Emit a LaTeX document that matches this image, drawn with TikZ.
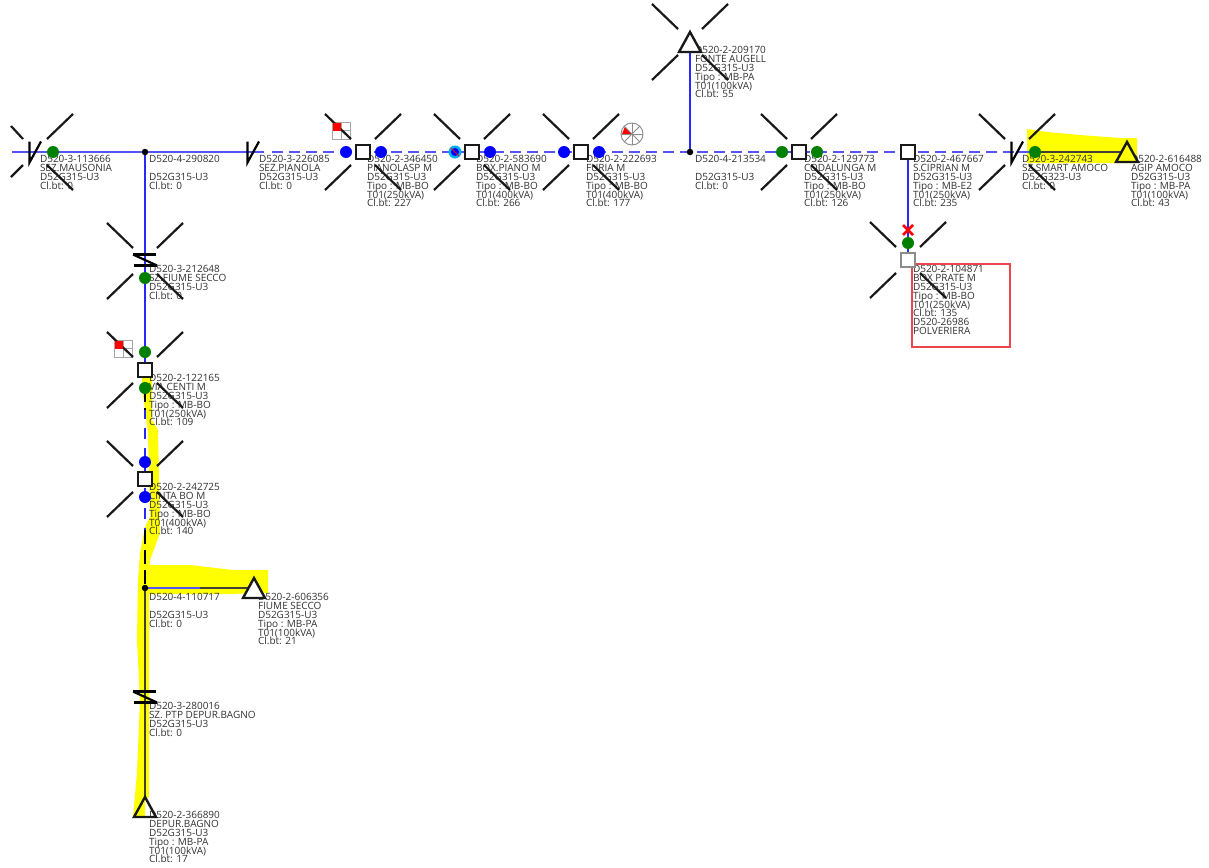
\documentclass[tikz,border=0pt]{standalone}
\usepackage{fontspec}
\setmainfont{Open Sans}
\pgfdeclarelayer{hl}
\pgfdeclarelayer{wires}
\pgfdeclarelayer{texts}
\pgfsetlayers{hl,wires,texts,main}
\definecolor{hiyel}{RGB}{255,255,0}
\definecolor{lnblue}{RGB}{85,85,245}
\definecolor{dkblue}{RGB}{40,40,250}
\definecolor{dotgreen}{RGB}{0,128,0}
\definecolor{boxred}{RGB}{235,70,75}
\definecolor{txt}{RGB}{50,50,50}
\tikzset{
  mainln/.style={lnblue,line width=2.4pt},
  dashln/.style={lnblue,line width=2.4pt,dash pattern=on 10.5pt off 6.5pt},
  vertln/.style={dkblue,line width=1.8pt},
  vdash/.style={dkblue,line width=1.8pt,dash pattern=on 11pt off 9pt},
  kdash/.style={black,line width=1.8pt,dash pattern=on 14pt off 6pt},
  kln/.style={black!85!yellow,line width=2pt},
  arm/.style={black!90,line width=2.2pt},
  sym/.style={black,line width=2.2pt},
  sq/.style={draw=black!90,fill=white,line width=2.4pt,minimum size=14pt,inner sep=0pt,outer sep=0pt},
  graysq/.style={sq,draw=black!45},
  bdot/.style={circle,fill=blue,minimum size=12pt,inner sep=0pt,outer sep=0pt},
  gdot/.style={circle,fill=dotgreen,minimum size=12pt,inner sep=0pt,outer sep=0pt},
  jdot/.style={circle,fill=black,minimum size=6.5pt,inner sep=0pt,outer sep=0pt},
  lab/.style={anchor=north west,inner sep=0pt,outer sep=0pt,align=left,text=txt,
    font=\fontsize{10}{8.85}\selectfont},
}
\newcommand{\lbl}[4]{\node[lab] (#1) at (#2,#3-3.6) {#4};}
\newcommand{\cross}[1]{%
  \draw[arm] ([shift={(-38,-38)}]#1.center) -- ([shift={(-12,-13)}]#1.center);
  \draw[arm] ([shift={(38,-38)}]#1.center) -- ([shift={(12,-13)}]#1.center);
  \draw[arm] ([shift={(-38,38)}]#1.center) -- ([shift={(-12,13)}]#1.center);
  \draw[arm] ([shift={(38,38)}]#1.center) -- ([shift={(12,13)}]#1.center);}
\newcommand{\brkN}[1]{%
  \draw[sym,line join=miter] ([shift={(-5.5,-10.5)}]#1) -- ([shift={(-5.5,10.5)}]#1) -- ([shift={(6,-10.5)}]#1);}
\newcommand{\brkZ}[1]{%
  \draw[sym] ([shift={(-12,-5.5)}]#1) -- ([shift={(11,-5.5)}]#1);
  \draw[sym] ([shift={(-11,5.5)}]#1) -- ([shift={(12,5.5)}]#1);
  \draw[sym] ([shift={(-12,-5.5)}]#1) -- ([shift={(12,5.5)}]#1);}
\newcommand{\tri}[2]{%
  \draw[line width=2.4pt,black!90,line join=miter,#2] (#1) -- ++(-11,20) -- ++(22,0) -- cycle;}
\newcommand{\flagbox}[2]{%
  \draw[black!35,line width=.9pt] (#1,#2) rectangle ++(18,17);
  \draw[black!35,line width=.9pt] (#1+9,#2) -- ++(0,17) (#1,#2+8.5) -- ++(18,0);}
\begin{document}
\begin{tikzpicture}[x=1pt,y=-1pt]
\lineskiplimit=-20pt
\useasboundingbox (0,0) rectangle (1209,867);
\begin{pgfonlayer}{hl}
\fill[white] (0,0) rectangle (1209,867);
\fill[hiyel] (1027,129) -- (1047,132) -- (1080,135) -- (1120,138) -- (1137,138) -- (1137,163) -- (1027,163) -- cycle;
\fill[hiyel] (142,378) -- (152,378) -- (152,420) -- (158,430) -- (160,533) -- (150,560) -- (150,565)
  -- (190,565) -- (233,570) -- (268,570) -- (268,593) -- (227,594) -- (149,594)
  -- (149,797) -- (145,800) -- (145,817) -- (133,817) -- (137,773) -- (140,700) -- (137,640)
  -- (138,580) -- (140,553) -- (145,527) -- (150,517) -- (148,433) -- (142,387) -- cycle;
\end{pgfonlayer}
% anchors
\coordinate (lineStart) at (12,152);
\coordinate (n1) at (35,152);
\coordinate (n2) at (253,152);
\coordinate (solidEnd) at (264,152);
\coordinate (dashStart) at (272,152);
\coordinate (n3) at (1017,152);
\coordinate (zA) at (145,260);
\coordinate (zB) at (145,697);
\coordinate (xF) at (145,261);
\coordinate (triTop) at (690,32);
\coordinate (triTopC) at (690,42);
\coordinate (triR) at (1127,142);
\coordinate (triL) at (254,578);
\coordinate (triB) at (145,797);
\coordinate (dashSwitch) at (145,530);
\coordinate (dashDark) at (145,410);
\coordinate (branchSwitch) at (200,588);
\coordinate (branchEnd) at (254,588);
\coordinate (feedEnd) at (1127,152);
% nodes
\node[gdot] (g1) at (53,152) {};
\node[jdot] (j1) at (145,152) {};
\node[bdot] (b1) at (346,152) {};
\node[sq] (s1) at (363,152) {};
\node[bdot] (b2) at (381,152) {};
\node[circle,fill=cyan,minimum size=13pt,inner sep=0pt] (c1) at (455,152) {};
\node[circle,fill=blue,minimum size=8pt,inner sep=0pt] (c2) at (455,152) {};
\draw[red,line width=1pt] ([shift={(-4,-4)}]c2.center) -- ([shift={(4,4)}]c2.center);
\node[sq] (s2) at (472,152) {};
\node[bdot] (b3) at (490,152) {};
\node[bdot] (b4) at (564,152) {};
\node[sq] (s3) at (581,152) {};
\node[bdot] (b5) at (599,152) {};
\node[jdot] (j2) at (690,152) {};
\node[gdot] (g2) at (782,152) {};
\node[sq] (s4) at (799,152) {};
\node[gdot] (g3) at (817,152) {};
\node[sq] (s5) at (908,152) {};
\node[gdot] (g4) at (1035,152) {};
\node[gdot] (g5) at (908,243) {};
\node[graysq] (s6) at (908,260) {};
\node[gdot] (g6) at (145,278) {};
\node[gdot] (g7) at (145,352) {};
\node[sq] (s7) at (145,370) {};
\node[gdot] (g8) at (145,388) {};
\node[bdot] (b6) at (145,462) {};
\node[sq] (s8) at (145,479) {};
\node[bdot] (b7) at (145,497) {};
\node[jdot] (j3) at (145,588) {};
% connectors
\begin{pgfonlayer}{wires}
\draw[mainln] (lineStart) -- (j1.center) -- (solidEnd);
\draw[dashln] (dashStart) -- (n3);
\draw[mainln] (n3) -- (g4.center);
\draw[kln,line width=2.4pt] (g4.center) -- (feedEnd);
\draw[vertln] (j1.center) -- (s7.center);
\draw[vertln] (triTop) -- (j2.center);
\draw[vertln] (s5.center) -- (s6.center);
\draw[vdash] (g8.center) -- (dashSwitch);
\draw[kdash] (g8.center) -- (dashDark);
\draw[kdash] (dashSwitch) -- (j3.center);
\draw[mainln,line width=1.8pt] (j3.center) -- (branchSwitch);
\draw[kln] (branchSwitch) -- (branchEnd);
\draw[kln] (j3.center) -- (triB);
\end{pgfonlayer}
% labels
\begin{pgfonlayer}{texts}
\lbl{t1}{40}{159}{D520-3-113666\\SEZ.MAUSONIA\\D52G315-U3\\Cl.bt: 0}
\lbl{t2}{149}{159}{D520-4-290820\\\mbox{}\\D52G315-U3\\Cl.bt: 0}
\lbl{t3}{259}{159}{D520-3-226085\\SEZ.PIANOLA\\D52G315-U3\\Cl.bt: 0}
\lbl{t4}{367}{159}{D520-2-346450\\PIANOLASP M\\D52G315-U3\\Tipo : MB-BO\\T01(250kVA)\\Cl.bt: 227}
\lbl{t5}{476}{159}{D520-2-583690\\BOX.PIANO M\\D52G315-U3\\Tipo : MB-BO\\T01(400kVA)\\Cl.bt: 266}
\lbl{t6}{586}{159}{D520-2-222693\\FURIA M\\D52G315-U3\\Tipo : MB-BO\\T01(400kVA)\\Cl.bt: 177}
\lbl{t7}{695}{50}{D520-2-209170\\FONTE AUGELL\\D52G315-U3\\Tipo : MB-PA\\T01(100kVA)\\Cl.bt: 55}
\lbl{t8}{695}{159}{D520-4-213534\\\mbox{}\\D52G315-U3\\Cl.bt: 0}
\lbl{t9}{804}{159}{D520-2-129773\\CODALUNGA M\\D52G315-U3\\Tipo : MB-BO\\T01(250kVA)\\Cl.bt: 126}
\lbl{t10}{913}{159}{D520-2-467667\\S.CIPRIAN M\\D52G315-U3\\Tipo : MB-E2\\T01(250kVA)\\Cl.bt: 235}
\lbl{t11}{1022}{159}{D520-3-242743\\SZ.SMART AMOCO\\D52G323-U3\\Cl.bt: 0}
\lbl{t12}{1131}{159}{D520-2-616488\\AGIP AMOCO\\D52G315-U3\\Tipo : MB-PA\\T01(100kVA)\\Cl.bt: 43}
\lbl{t13}{913}{269}{D520-2-104871\\BOX PRATE M\\D52G315-U3\\Tipo : MB-BO\\T01(250kVA)\\Cl.bt: 135\\D520-26986\\POLVERIERA}
\lbl{t14}{149}{269}{D520-3-212648\\SZ.FIUME SECCO\\D52G315-U3\\Cl.bt: 0}
\lbl{t15}{149}{378}{D520-2-122165\\VIA CENTI M\\D52G315-U3\\Tipo : MB-BO\\T01(250kVA)\\Cl.bt: 109}
\lbl{t16}{149}{487}{D520-2-242725\\CINTA BO M\\D52G315-U3\\Tipo : MB-BO\\T01(400kVA)\\Cl.bt: 140}
\lbl{t17}{149}{597}{D520-4-110717\\\mbox{}\\D52G315-U3\\Cl.bt: 0}
\lbl{t18}{258}{597}{D520-2-606356\\FIUME SECCO\\D52G315-U3\\Tipo : MB-PA\\T01(100kVA)\\Cl.bt: 21}
\lbl{t19}{149}{706}{D520-3-280016\\SZ. PTP DEPUR.BAGNO\\D52G315-U3\\Cl.bt: 0}
\lbl{t20}{149}{815}{D520-2-366890\\DEPUR.BAGNO\\D52G315-U3\\Tipo : MB-PA\\T01(100kVA)\\Cl.bt: 17}
\node[draw=boxred,line width=1.5pt,minimum width=98pt,minimum height=83pt,inner sep=0pt,anchor=north west] (redBox) at (911,263) {};
\end{pgfonlayer}
% flags and pie
\flagbox{332}{122}
\flagbox{114}{340}
\fill[red] (632,134) -- (622,134) -- (625,126.5) -- cycle;
\draw[black!45,line width=.9pt] (632,134) circle[radius=11];
\foreach \a in {0,45,...,315} \draw[black!45,line width=.8pt] (632,134) -- ++(\a:11);
% red cross
\coordinate (redX) at (908,230);
\draw[red,line width=2.6pt] ([shift={(-5,-5)}]redX) -- ([shift={(5,5)}]redX);
\draw[red,line width=2.6pt] ([shift={(5,-5)}]redX) -- ([shift={(-5,5)}]redX);
% cross arms
\cross{s1}\cross{s2}\cross{s3}\cross{s4}\cross{s6}\cross{s7}\cross{s8}
\cross{xF}\cross{triTopC}\cross{n3}
\draw[arm] (11,126) -- (23,139);
\draw[arm] (73,114) -- (47,139);
\draw[arm] (11,177) -- (23,165);
\draw[arm] (73,190) -- (47,165);
% red flag cells sit above the arms
\fill[red] (332.5,122.5) rectangle ++(8.5,8);
\fill[red] (114.5,340.5) rectangle ++(8.5,8);
% breakers and triangles
\brkN{n1}\brkN{n2}\brkN{n3}
\brkZ{zA}\brkZ{zB}
\tri{triTop}{fill=white}
\tri{triR}{fill=hiyel}
\tri{triL}{fill=white}
\tri{triB}{}
\end{tikzpicture}
\end{document}
